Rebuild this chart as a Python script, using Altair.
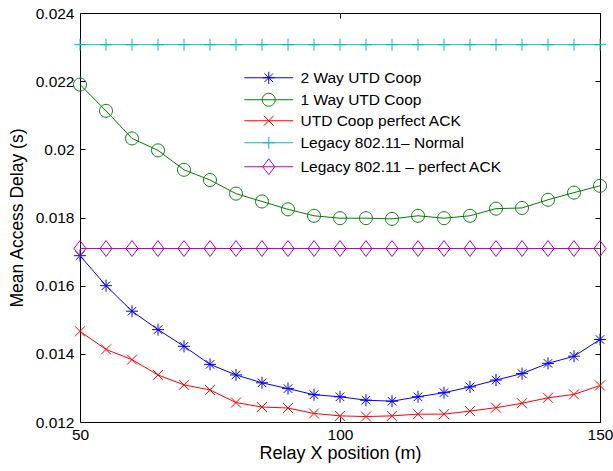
import altair as alt
import pandas as pd

# Relay position along the x axis (m)
x_pos = [50, 55, 60, 65, 70, 75, 80, 85, 90, 95, 100,
         105, 110, 115, 120, 125, 130, 135, 140, 145, 150]

# Mean access delay (s) for each scheme
two_way = [0.01688, 0.01600, 0.01525, 0.01471, 0.01422, 0.01369, 0.01338,
           0.01315, 0.01298, 0.01280, 0.01274, 0.01264, 0.01261, 0.01274,
           0.01286, 0.01303, 0.01323, 0.01342, 0.01372, 0.01393, 0.01442]
one_way = [0.02190, 0.02113, 0.02032, 0.01997, 0.01940, 0.01910, 0.01870,
           0.01847, 0.01824, 0.01805, 0.01798, 0.01798, 0.01796, 0.01805,
           0.01798, 0.01805, 0.01826, 0.01828, 0.01852, 0.01873, 0.01893]
perfect_ack = [0.01466, 0.01413, 0.01383, 0.01338, 0.01309, 0.01294, 0.01257,
               0.01244, 0.01241, 0.01225, 0.01218, 0.01216, 0.01218, 0.01223,
               0.01223, 0.01232, 0.01242, 0.01255, 0.01271, 0.01281, 0.01307]
legacy_normal = [0.02307] * 21
legacy_perfect = [0.01709] * 21

series_names = ["2 Way UTD Coop", "1 Way UTD Coop", "UTD Coop perfect ACK",
                "Legacy 802.11\u2013 Normal", "Legacy 802.11 \u2013 perfect ACK"]
series_values = [two_way, one_way, perfect_ack, legacy_normal, legacy_perfect]
colors = ["#0000ff", "#008000", "#ff0000", "#00bfbf", "#bf00bf"]

x_ticks = [50, 100, 150]
y_ticks = [0.012, 0.014, 0.016, 0.018, 0.020, 0.022, 0.024]

# Marker outlines (unit = half of sqrt(size))
markers = [
    "M0,-1V1M-1,0H1M-0.71,-0.71L0.71,0.71M-0.71,0.71L0.71,-0.71",  # asterisk
    "M-1.08,0A1.08,1.08 0 1,1 1.08,0A1.08,1.08 0 1,1 -1.08,0Z",    # circle
    "M-0.83,-0.83L0.83,0.83M-0.83,0.83L0.83,-0.83",                 # x
    "M0,-1V1M-1,0H1",                                               # plus
    "M0,-1.33L1,0L0,1.33L-1,0Z",                                    # diamond
]
# legend symbols: line segment through the marker
legend_symbols = ["M-4.08,0H4.08" + m for m in markers]

rows = []
for name, ys in zip(series_names, series_values):
    for xv, yv in zip(x_pos, ys):
        rows.append({"series": name, "x": xv, "delay": yv})
df = pd.DataFrame(rows)

x_scale = alt.Scale(domain=[50, 150], nice=False, zero=False)
y_scale = alt.Scale(domain=[0.012, 0.024], nice=False, zero=False)

axis_common = dict(offset=-5, tickSize=5, domain=False, grid=False)
bottom_axis = alt.Axis(orient="bottom", values=x_ticks, labelPadding=5,
                       title="Relay X position (m)", titlePadding=2,
                       titleFontSize=18, labelFlush=False, **axis_common)
left_axis = alt.Axis(orient="left", values=y_ticks, format=".3~f",
                     labelPadding=6, title="Mean Access Delay (s)",
                     titlePadding=9, **axis_common)
top_axis = alt.Axis(orient="top", values=x_ticks, labels=False, title=None,
                    **axis_common)
right_axis = alt.Axis(orient="right", values=y_ticks, labels=False, title=None,
                      **axis_common)

base = alt.Chart(df)
layers = []
for i, (name, color, marker) in enumerate(zip(series_names, colors, markers)):
    if i == 0:
        xa, ya = bottom_axis, left_axis
    elif i == 1:
        xa, ya = top_axis, right_axis
    else:
        xa, ya = None, None
    sub = base.transform_filter(alt.datum.series == name)
    layers.append(
        sub.mark_line(color=color, strokeWidth=1).encode(
            x=alt.X("x:Q", scale=x_scale, axis=xa),
            y=alt.Y("delay:Q", scale=y_scale, axis=ya),
        )
    )
    layers.append(
        sub.mark_point(shape=marker, color=color, filled=False, size=144,
                       strokeWidth=1, opacity=1).encode(
            x=alt.X("x:Q", scale=x_scale, axis=None),
            y=alt.Y("delay:Q", scale=y_scale, axis=None),
        )
    )

legend_cfg = dict(orient="none", legendX=181, legendY=57, title=None,
                  labelFontSize=15.5, labelFont="Liberation Sans",
                  labelColor="black", labelLimit=400, labelOffset=24,
                  symbolSize=144, symbolStrokeWidth=1, rowPadding=4, padding=0)

legend_layer = base.transform_filter("false").mark_point(
    filled=False, size=144, strokeWidth=1, opacity=1
).encode(
    x=alt.X("x:Q", scale=x_scale, axis=None),
    y=alt.Y("delay:Q", scale=y_scale, axis=None),
    color=alt.Color("series:N", scale=alt.Scale(domain=series_names, range=colors),
                    legend=alt.Legend(**legend_cfg)),
    shape=alt.Shape("series:N", scale=alt.Scale(domain=series_names, range=legend_symbols),
                    legend=alt.Legend(**legend_cfg)),
)
layers.append(legend_layer)

chart = alt.layer(*layers).resolve_axis(
    x="independent", y="independent"
).properties(
    width=520, height=409,
    autosize=alt.AutoSizeParams(type="none"),
    padding={"left": 80, "top": 13, "right": 13, "bottom": 49},
    background="white",
).configure_view(
    stroke="black", strokeWidth=1
).configure_axis(
    labelFont="Liberation Sans", labelFontSize=15.5, labelColor="black",
    titleFont="Liberation Sans", titleFontSize=17.5, titleFontWeight="normal",
    titleColor="black", tickColor="black", tickWidth=1,
)

chart.save("out.html", embed_options={"renderer": "svg", "actions": False})
